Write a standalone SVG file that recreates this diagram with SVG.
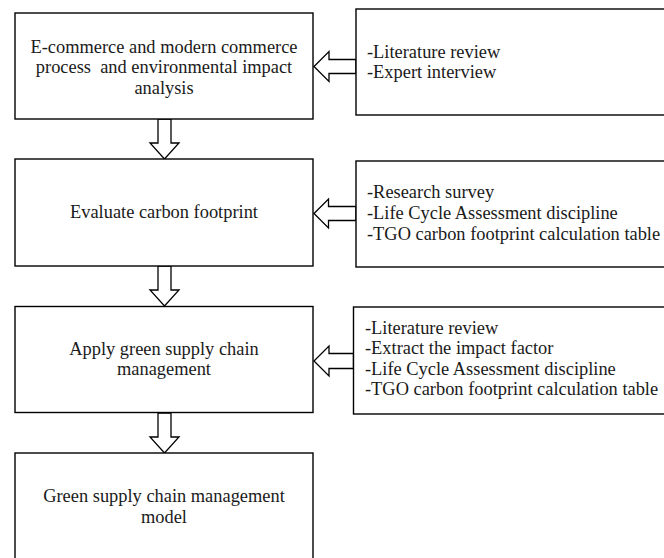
<svg xmlns="http://www.w3.org/2000/svg" width="664" height="558" viewBox="0 0 664 558">
<defs>
<style>
rect.box{fill:#fff;stroke:#000;stroke-width:1.4}
polygon.arr{fill:#fff;stroke:#000;stroke-width:1.3;stroke-linejoin:miter}
text{font-family:"Liberation Serif","Times New Roman",serif;font-size:18.4px;fill:#1a1a1a}
text.c{text-anchor:middle}
</style>
</defs>
<rect width="664" height="558" fill="#fff"/>
<g id="connectors">
<polygon class="arr" points="158,119 158,143 150,143 164.5,159 179,143 171,143 171,119"/>
<polygon class="arr" points="158,266 158,290 150,290 164.5,306 179,290 171,290 171,266"/>
<polygon class="arr" points="158,413 158,437 150,437 164.5,453 179,437 171,437 171,413"/>
<polygon class="arr" points="356,59.5 329,59.5 329,51.5 314,66.5 329,81.5 329,73.5 356,73.5"/>
<polygon class="arr" points="356,206.5 328.5,206.5 328.5,199 314,213.5 328.5,228 328.5,220.5 356,220.5"/>
<polygon class="arr" points="353.5,353.5 329,353.5 329,346 314,361 329,376 329,368.5 353.5,368.5"/>
</g>
<g id="n1">
<rect class="box" x="15" y="13" width="298" height="106"/>
<text class="c" x="164" y="52.5">E-commerce and modern commerce</text>
<text class="c" x="164" y="73" xml:space="preserve">process  and environmental impact</text>
<text class="c" x="164" y="93.5">analysis</text>
</g>
<g id="n2">
<rect class="box" x="15" y="159" width="298" height="107"/>
<text class="c" x="164" y="218">Evaluate carbon footprint</text>
</g>
<g id="n3">
<rect class="box" x="15" y="306.5" width="298" height="106"/>
<text class="c" x="164" y="354.5">Apply green supply chain</text>
<text class="c" x="164" y="375">management</text>
</g>
<g id="n4">
<rect class="box" x="15" y="453" width="298" height="120"/>
<text class="c" x="164" y="502">Green supply chain management</text>
<text class="c" x="164" y="522.5">model</text>
</g>
<g id="r1">
<rect class="box" x="356" y="9" width="320" height="106"/>
<text x="367" y="57.5">-Literature review</text>
<text x="367" y="78">-Expert interview</text>
</g>
<g id="r2">
<rect class="box" x="356" y="161" width="320" height="106"/>
<text x="367" y="198">-Research survey</text>
<text x="367" y="219">-Life  Cycle Assessment discipline</text>
<text x="367" y="240">-TGO carbon footprint calculation table</text>
</g>
<g id="r3">
<rect class="box" x="353.5" y="307" width="320" height="107"/>
<text x="365" y="333.5">-Literature review</text>
<text x="365" y="354">-Extract the impact factor</text>
<text x="365" y="374.5">-Life Cycle Assessment discipline</text>
<text x="365" y="395">-TGO carbon footprint calculation table</text>
</g>
</svg>
